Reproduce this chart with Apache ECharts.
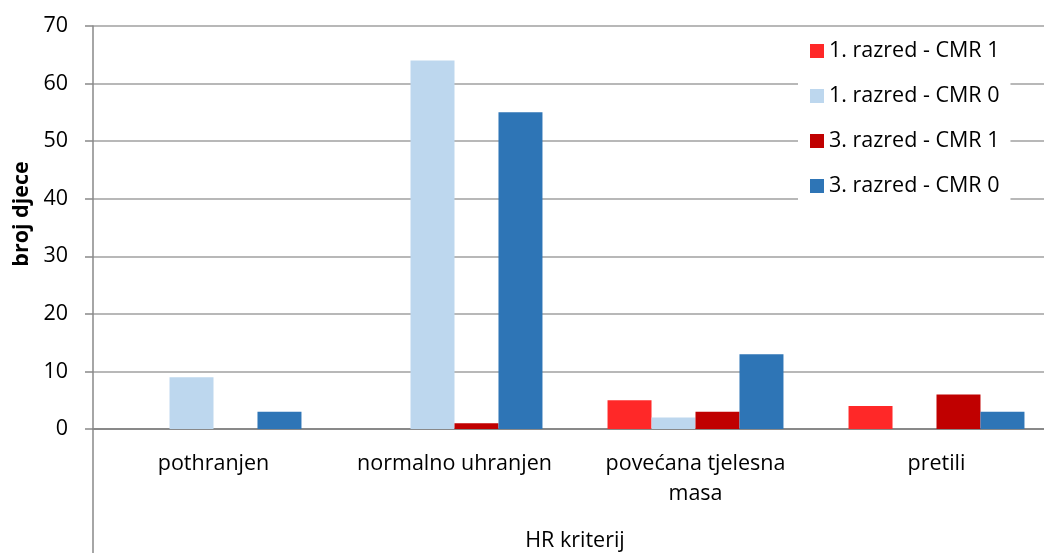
<!DOCTYPE html>
<html>
<head>
<meta charset="utf-8">
<script src="https://cdn.jsdelivr.net/npm/echarts@6/dist/echarts.min.js"></script>
<style>
html,body{margin:0;padding:0;background:#fff;overflow:hidden;}
#chart{width:1044px;height:553px;}
</style>
</head>
<body>
<div id="chart"></div>
<script>
const categories = ['pothranjen', 'normalno uhranjen', 'povećana tjelesna masa', 'pretili'];
const seriesNames = ['1. razred - CMR 1', '1. razred - CMR 0', '3. razred - CMR 1', '3. razred - CMR 0'];
const r1cmr1 = [0, 0, 5, 4];
const r1cmr0 = [9, 64, 2, 0];
const r3cmr1 = [0, 1, 3, 6];
const r3cmr0 = [3, 55, 13, 3];
const colors = ['#FF2828', '#BDD7EE', '#C00000', '#2E75B6'];
const yTicks = { min: 0, max: 70, interval: 10 };
const yTitle = 'broj djece';
const xTitle = 'HR kriterij';

const font = '"Open Sans", "Noto Sans", sans-serif';
const fs = 21.5;
const values = [r1cmr1, r1cmr0, r3cmr1, r3cmr0];

const chart = echarts.init(document.getElementById('chart'), null, { renderer: 'canvas' });
chart.setOption({
  animation: false,
  backgroundColor: '#fff',
  textStyle: { fontFamily: font },
  grid: { left: 93, width: 964, top: 26, bottom: 124, containLabel: false, outerBoundsMode: 'none' },
  legend: {
    orient: 'vertical',
    left: 798,
    top: 28,
    backgroundColor: '#fff',
    padding: [12, 11, 8, 12],
    itemWidth: 14,
    itemHeight: 14,
    itemGap: 23,
    icon: 'rect',
    textStyle: { fontFamily: font, fontSize: 21.5, color: '#000', padding: [0, 0, 0, 0] },
    data: seriesNames
  },
  xAxis: {
    type: 'category',
    data: categories,
    name: xTitle,
    nameLocation: 'middle',
    nameGap: 101,
    nameTextStyle: { fontFamily: font, fontSize: fs, color: '#000' },
    axisLine: { show: true, lineStyle: { color: '#898989', width: 2 } },
    axisTick: { show: false },
    axisLabel: {
      fontFamily: font, fontSize: fs, color: '#000', margin: 20,
      lineHeight: 30, interval: 0,
      formatter: function (s) {
        if (s.length > 20) { const k = s.lastIndexOf(' '); return s.slice(0, k) + '\n' + s.slice(k + 1); }
        return s;
      }
    },
    splitLine: { show: false }
  },
  yAxis: {
    type: 'value',
    min: yTicks.min, max: yTicks.max, interval: yTicks.interval,
    axisLine: { show: true, lineStyle: { color: '#898989', width: 1.5 } },
    axisTick: { show: true, length: 8, lineStyle: { color: '#898989', width: 1.5 } },
    axisLabel: { fontFamily: font, fontSize: fs, color: '#000', margin: 25 },
    splitLine: { show: true, lineStyle: { color: '#a0a0a0', width: 1.5 } }
  },
  series: values.map((v, i) => ({
    name: seriesNames[i],
    type: 'bar',
    data: v,
    barGap: '0%',
    barCategoryGap: '27%',
    itemStyle: { color: colors[i] },
    z: 2
  })),
  graphic: [
    {
      type: 'line',
      shape: { x1: 93, y1: 429, x2: 93, y2: 553 },
      style: { stroke: '#898989', lineWidth: 1.5 },
      z: 10
    },
    {
      type: 'text',
      x: 22, y: 214,
      rotation: Math.PI / 2,
      style: {
        text: yTitle, fontFamily: font, fontSize: fs, fontWeight: 'bold',
        fill: '#000', align: 'center', verticalAlign: 'middle'
      }
    }
  ]
});
</script>
</body>
</html>
